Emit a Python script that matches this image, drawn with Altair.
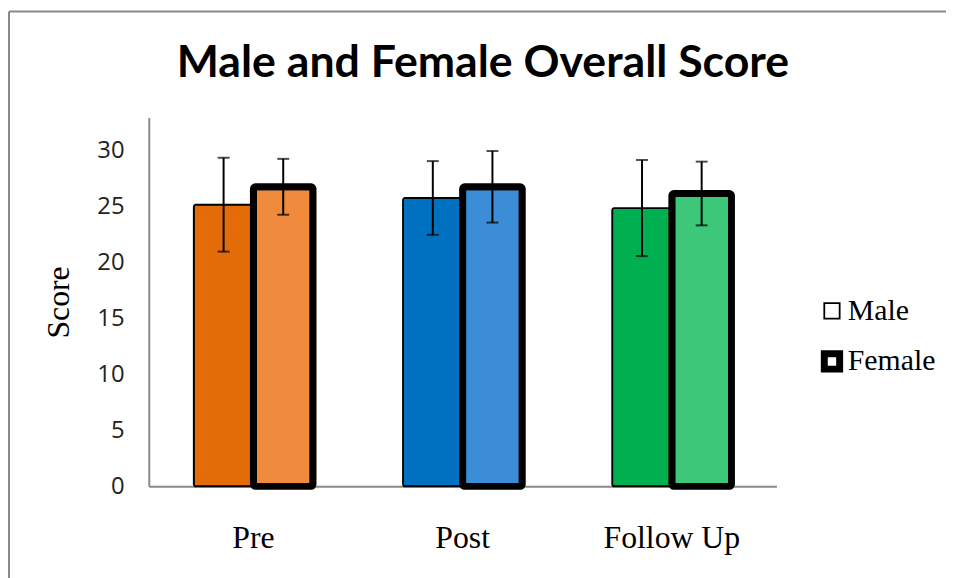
import altair as alt
import pandas as pd

categories = ["Pre", "Post", "Follow Up"]
genders = ["Male", "Female"]
male_means = [25.2, 25.8, 24.9]
male_sd = [4.2, 3.3, 4.3]
female_means = [26.8, 26.8, 26.2]
female_sd = [2.5, 3.2, 2.85]

male_colors = ["#E36C09", "#0070C0", "#00B050"]
female_colors = ["#F08A3C", "#3C8DD8", "#3CC878"]

title_text = "Male and Female Overall Score"

rows = []
for i, c in enumerate(categories):
    rows.append({"cat": c, "gender": "Male", "key": c + "|Male", "val": male_means[i],
                 "lo": male_means[i] - male_sd[i], "hi": male_means[i] + male_sd[i]})
    rows.append({"cat": c, "gender": "Female", "key": c + "|Female", "val": female_means[i],
                 "lo": female_means[i] - female_sd[i], "hi": female_means[i] + female_sd[i]})
df = pd.DataFrame(rows)

keys = [c + "|Male" for c in categories] + [c + "|Female" for c in categories]
key_colors = male_colors + female_colors

x_enc = alt.X("cat:N", sort=categories, title=None,
              scale=alt.Scale(paddingInner=0.43, paddingOuter=0.215),
              axis=alt.Axis(labelAngle=0, labelFont="Liberation Serif", labelFontSize=32,
                            labelColor="black", labelPadding=37, ticks=False,
                            domainColor="#888888", domainWidth=2))
xo_enc = alt.XOffset("gender:N", sort=genders,
                     scale=alt.Scale(domain=genders, paddingInner=0, paddingOuter=0))
y_scale = alt.Scale(domain=[0, 33], nice=False)

base = alt.Chart(df)

bars = base.mark_bar(stroke="black", cornerRadius=2).encode(
    x=x_enc,
    xOffset=xo_enc,
    y=alt.Y("val:Q", scale=y_scale, title="Score",
            axis=alt.Axis(values=[0, 5, 10, 15, 20, 25, 30], grid=False, ticks=False,
                          labelFont="Open Sans", labelFontSize=24, labelColor="#222222",
                          labelPadding=25, domainColor="#888888", domainWidth=2,
                          titleFont="Liberation Serif", titleFontSize=32,
                          titleFontWeight="normal", titleColor="black", titlePadding=22)),
    fill=alt.Fill("key:N", scale=alt.Scale(domain=keys, range=key_colors), legend=None),
    strokeWidth=alt.StrokeWidth("gender:N",
                                scale=alt.Scale(domain=genders, range=[1.8, 7]),
                                legend=alt.Legend(title=None, orient="none", legendX=674,
                                                  legendY=180, symbolType="square",
                                                  symbolSize=240, symbolFillColor="white",
                                                  symbolStrokeColor="black",
                                                  labelFont="Liberation Serif",
                                                  labelFontSize=30, labelColor="black",
                                                  rowPadding=14, labelOffset=1)),
)

err = base.mark_rule(color="black", strokeWidth=2).encode(
    x=alt.X("cat:N", sort=categories),
    xOffset=xo_enc,
    y=alt.Y("lo:Q", scale=y_scale),
    y2="hi:Q",
)
cap_lo = base.mark_tick(color="black", thickness=2, size=12).encode(
    x=alt.X("cat:N", sort=categories), xOffset=xo_enc, y=alt.Y("lo:Q", scale=y_scale))
cap_hi = base.mark_tick(color="black", thickness=2, size=12).encode(
    x=alt.X("cat:N", sort=categories), xOffset=xo_enc, y=alt.Y("hi:Q", scale=y_scale))

one = pd.DataFrame({"a": [0]})
frame_left = alt.Chart(one).mark_rule(color="#888888", strokeWidth=2).encode(
    x=alt.value(-141), y=alt.value(-107), y2=alt.value(470))
frame_top = alt.Chart(one).mark_rule(color="#888888", strokeWidth=2).encode(
    x=alt.value(-141), x2=alt.value(820), y=alt.value(-107))
title = alt.Chart(one).mark_text(font="Lato", fontSize=45, fontWeight="bold",
                                 color="black", align="center", baseline="alphabetic").encode(
    x=alt.value(337), y=alt.value(-41), text=alt.value(title_text))

chart = alt.layer(frame_left, frame_top, title, bars, err, cap_lo, cap_hi).properties(
    width=633, height=372,
    padding={"left": 142, "top": 108, "right": 171, "bottom": 90},
    autosize=alt.AutoSizeParams(type="none"),
).configure(background="white").configure_view(stroke=None)

chart.save("out.html", embed_options={"renderer": "svg", "actions": False})
